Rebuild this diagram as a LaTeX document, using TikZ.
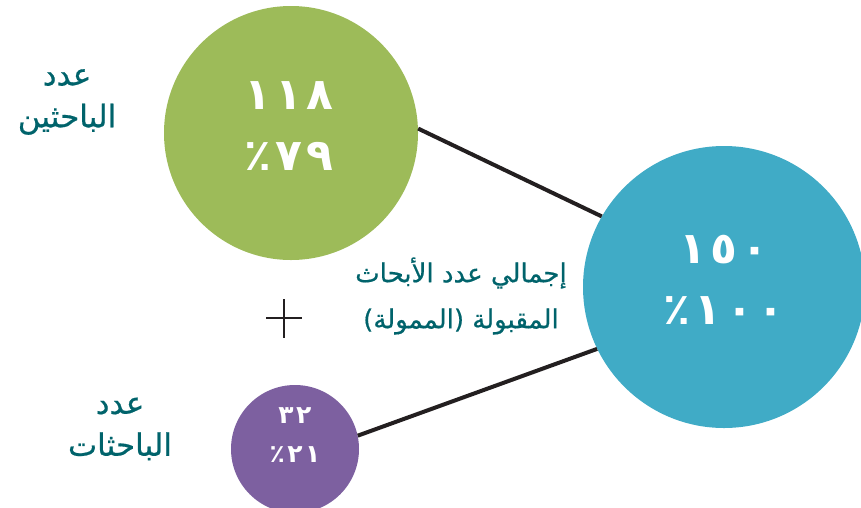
\documentclass[tikz,border=0pt]{standalone}
\usepackage{fontspec}
\TeXXeTstate=1
\newfontfamily\arabicfont[Script=Arabic,FakeBold=0.6]{DejaVu Sans}
\newfontfamily\digitfont[LetterSpace=10]{DejaVu Sans}
\definecolor{cgreen}{RGB}{157,187,89}
\definecolor{cblue}{RGB}{64,171,198}
\definecolor{cpurple}{RGB}{125,96,160}
\definecolor{cteal}{RGB}{0,99,107}
\definecolor{cline}{RGB}{35,31,32}
\tikzset{
  disc/.style={circle,inner sep=0pt,draw=none},
  bignum/.style={text=white,font=\digitfont\bfseries\fontsize{44}{61}\selectfont,align=center,inner sep=0pt},
  smallnum/.style={text=white,font=\digitfont\bfseries\fontsize{25}{39}\selectfont,align=center,inner sep=0pt},
  sidelabel/.style={text=cteal,font=\arabicfont\fontsize{31}{42}\selectfont,align=center,inner sep=0pt},
  midlabel/.style={text=cteal,font=\arabicfont\fontsize{26}{46}\selectfont,align=center,inner sep=0pt},
  conn/.style={draw=cline,line width=4pt},
  plusline/.style={draw=cline,line width=2pt}
}
\begin{document}
\begin{tikzpicture}[x=1pt,y=-1pt]
\useasboundingbox (0,0) rectangle (861,507);
\node[disc,fill=cgreen,minimum size=254pt] (g) at (291,133) {};
\node[disc,fill=cblue,minimum size=282pt] (b) at (724,287) {};
\node[disc,fill=cpurple,minimum size=128pt] (p) at (295,449) {};
\draw[conn] (g.2) -- (b.150);
\draw[conn] (p.12) -- (b.206);
\node[bignum] (gt) at (289,126) {١١٨\\٪٧٩};
\node[bignum] (bt) at (724,280) {١٥٠\\٪١٠٠};
\node[smallnum] (pt) at (295,435) {٣٢\\٪٢١};
\node[sidelabel] (l1) at (67,102) {\beginR عدد\endR\\\beginR الباحثين\endR};
\node[sidelabel] (l2) at (120,429) {\beginR عدد\endR\\\beginR الباحثات\endR};
\node[midlabel] (l3) at (461,296) {\beginR إجمالي عدد الأبحاث\endR\\\beginR المقبولة (الممولة)\endR};
\draw[plusline] (266,318) -- (302,318) (284,299) -- (284,338);
\end{tikzpicture}
\end{document}
